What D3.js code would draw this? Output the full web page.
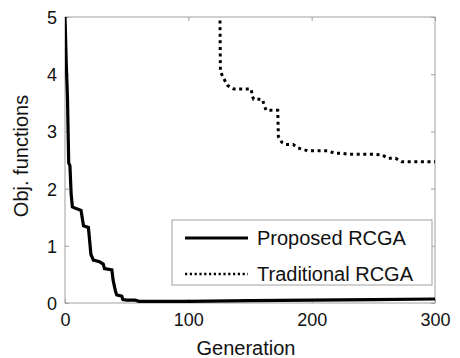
<!DOCTYPE html>
<html>
<head>
<meta charset="utf-8">
<script src="https://cdn.jsdelivr.net/npm/d3@7"></script>
<style>
  body { margin: 0; background: #fff; }
  text { font-family: "Liberation Sans", Arial, sans-serif; fill: #111; }
</style>
</head>
<body>
<div id="chart"></div>
<script>
// generation / objective values
var propGen = [0, 1, 2, 3, 4, 5, 6, 9, 13, 15, 19, 21, 23, 28, 31, 32, 38, 39, 41, 42, 46, 47, 50, 57, 60, 100, 150, 200, 250, 300];
var propVal = [5.0, 4.2, 3.6, 2.45, 2.4, 1.9, 1.68, 1.65, 1.62, 1.35, 1.32, 0.85, 0.75, 0.72, 0.68, 0.6, 0.58, 0.4, 0.2, 0.14, 0.12, 0.06, 0.05, 0.05, 0.03, 0.03, 0.04, 0.05, 0.06, 0.07];

var tradGen = [125.5, 126, 128.5, 132, 137, 151, 152, 153, 160, 163, 172.5, 173, 175.8, 179, 185, 189, 197, 213, 218.5, 224, 230, 251, 257, 262, 268, 273, 300];
var tradVal = [5.4, 4.05, 3.93, 3.8, 3.74, 3.74, 3.61, 3.56, 3.56, 3.37, 3.37, 2.91, 2.81, 2.77, 2.77, 2.71, 2.66, 2.66, 2.62, 2.62, 2.6, 2.6, 2.59, 2.53, 2.53, 2.47, 2.47];

var xTicks = [0, 100, 200, 300];
var yTicks = [0, 1, 2, 3, 4, 5];
var names = ["Proposed RCGA", "Traditional RCGA"];

var W = 460, H = 358;
var pL = 65, pR = 435, pT = 17, pB = 303;

var svg = d3.select("#chart").append("svg").attr("width", W).attr("height", H);

var x = d3.scaleLinear().domain([0, 300]).range([pL, pR]);
var y = d3.scaleLinear().domain([0, 5]).range([pB, pT]);

svg.append("clipPath").attr("id", "plotclip")
  .append("rect").attr("x", pL).attr("y", pT).attr("width", pR - pL).attr("height", pB - pT);

// frame (faint, like the scan)
svg.append("rect").attr("x", pL).attr("y", pT).attr("width", pR - pL).attr("height", pB - pT)
  .attr("fill", "none").attr("stroke", "#a0a0a0").attr("stroke-width", 1);

// ticks inward on all four sides
var fmt = d3.format("d");
var xAxis = svg.append("g").attr("transform", "translate(0," + pB + ")")
  .call(d3.axisBottom(x).tickValues(xTicks).tickFormat(fmt).tickSizeInner(-4).tickSizeOuter(0).tickPadding(10));
var yAxis = svg.append("g").attr("transform", "translate(" + pL + ",0)")
  .call(d3.axisLeft(y).tickValues(yTicks).tickFormat(fmt).tickSizeInner(-4).tickSizeOuter(0).tickPadding(8));
svg.append("g").attr("transform", "translate(0," + pT + ")")
  .call(d3.axisTop(x).tickValues(xTicks).tickSizeInner(-4).tickSizeOuter(0).tickFormat(""));
svg.append("g").attr("transform", "translate(" + pR + ",0)")
  .call(d3.axisRight(y).tickValues(yTicks).tickSizeInner(-4).tickSizeOuter(0).tickFormat(""));

svg.selectAll(".domain").remove();
svg.selectAll(".tick line").attr("stroke", "#a0a0a0");
svg.selectAll(".tick text").style("font-size", "18px")
  .style("font-family", "'Liberation Sans', Arial, sans-serif").attr("fill", "#111");
yAxis.selectAll(".tick text").attr("dy", "0.36em");

// lines
var line = d3.line().x(function(d) { return x(d[0]); }).y(function(d) { return y(d[1]); });
var plot = svg.append("g").attr("clip-path", "url(#plotclip)");

plot.append("path")
  .datum(tradGen.map(function(g, i) { return [g, tradVal[i]]; }))
  .attr("d", line).attr("fill", "none").attr("stroke", "#000")
  .attr("stroke-width", 3).attr("stroke-dasharray", "3,3.6");

plot.append("path")
  .datum(propGen.map(function(g, i) { return [g, propVal[i]]; }))
  .attr("d", line).attr("fill", "none").attr("stroke", "#000")
  .attr("stroke-width", 3.2).attr("stroke-linejoin", "miter");

// axis labels
svg.append("text").attr("x", 246).attr("y", 355).attr("text-anchor", "middle")
  .style("font-size", "20px").text("Generation");
svg.append("text").attr("transform", "translate(28,156) rotate(-90)").attr("text-anchor", "middle")
  .style("font-size", "20px").text("Obj. functions");

// legend
var lg = svg.append("g");
lg.append("rect").attr("x", 172).attr("y", 220).attr("width", 260).attr("height", 65)
  .attr("fill", "#fff").attr("stroke", "#a0a0a0").attr("stroke-width", 1);
var rows = [{ y: 238, dash: null, w: 3.2 }, { y: 274, dash: "2.2,2.6", w: 2.4 }];
rows.forEach(function(r, i) {
  lg.append("line").attr("x1", 185).attr("x2", 248).attr("y1", r.y).attr("y2", r.y)
    .attr("stroke", "#000").attr("stroke-width", r.w).attr("stroke-dasharray", r.dash);
  lg.append("text").attr("x", 257).attr("y", r.y + 7).style("font-size", "20px").text(names[i]);
});
</script>
</body>
</html>
